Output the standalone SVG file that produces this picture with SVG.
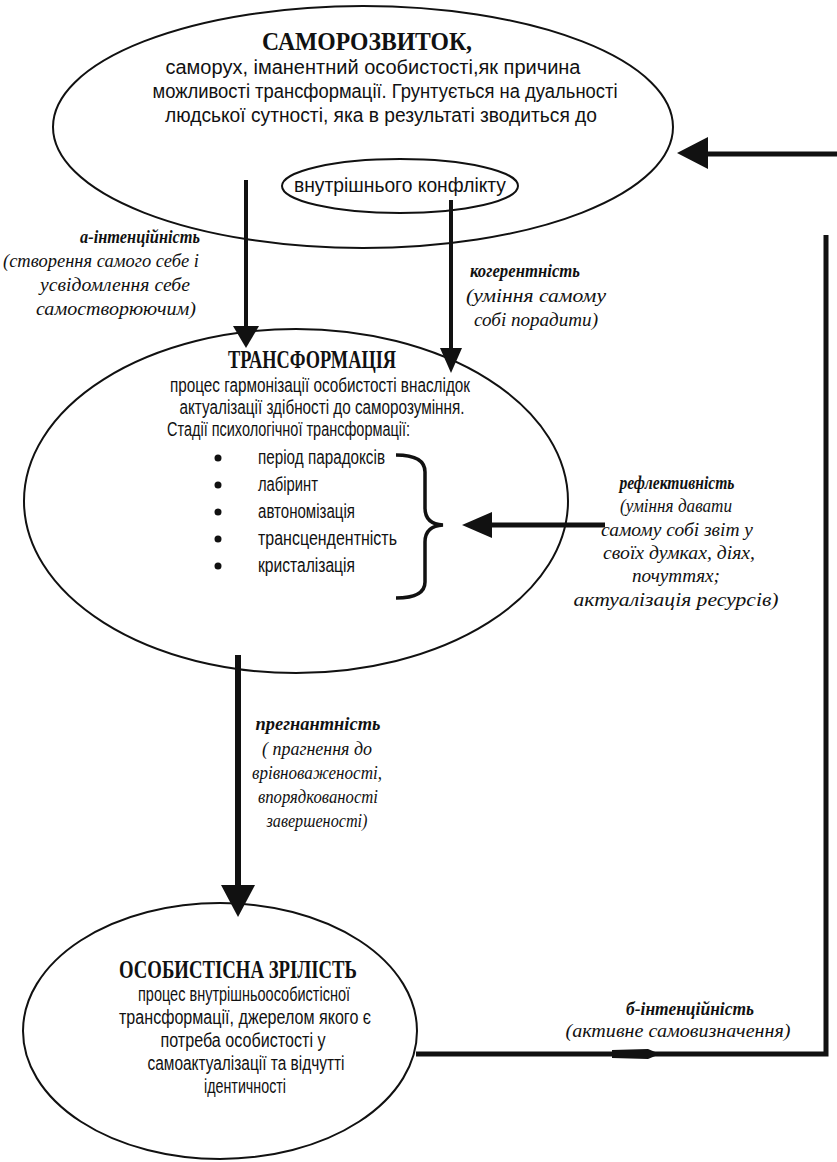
<svg xmlns="http://www.w3.org/2000/svg" width="837" height="1162" viewBox="0 0 837 1162">
<style>
.shape{fill:none;stroke:#111;stroke-width:2}
.ttl{font-family:"Liberation Serif",serif;font-weight:bold;fill:#111;text-anchor:middle}
.bd{font-family:"Liberation Sans Narrow","Liberation Sans",sans-serif;font-size:20px;fill:#111}
.c{text-anchor:middle}
.lh{font-family:"Liberation Serif",serif;font-style:italic;font-weight:bold;font-size:19px;fill:#111;text-anchor:middle}
.li{font-family:"Liberation Serif",serif;font-style:italic;font-size:19px;fill:#111;text-anchor:middle}
.ln{stroke:#111;fill:none}
.hd{fill:#111}
</style>
<rect width="837" height="1162" fill="#fff"/>
<g id="node-samorozvytok">
<ellipse class="shape" cx="363" cy="127" rx="310" ry="121"/>
<text class="ttl" x="367" y="50" font-size="26" textLength="210" lengthAdjust="spacingAndGlyphs">САМОРОЗВИТОК,</text>
<text class="bd c" x="373" y="74" textLength="415" lengthAdjust="spacingAndGlyphs">саморух, іманентний особистості,як причина</text>
<text class="bd c" x="385" y="98" textLength="465" lengthAdjust="spacingAndGlyphs">можливості трансформації. Грунтується на дуальності</text>
<text class="bd c" x="381" y="122" textLength="432" lengthAdjust="spacingAndGlyphs">людської сутності, яка в результаті зводиться до</text>
</g>
<g id="node-konflikt">
<ellipse class="shape" cx="400" cy="186" rx="118" ry="27"/>
<text class="bd c" x="400" y="192" font-size="19" textLength="212" lengthAdjust="spacingAndGlyphs">внутрішнього конфлікту</text>
</g>
<g id="node-transformatsiia">
<ellipse class="shape" cx="296" cy="501" rx="272" ry="172"/>
<text class="ttl" x="312" y="368" font-size="25" textLength="168" lengthAdjust="spacingAndGlyphs">ТРАНСФОРМАЦІЯ</text>
<text class="bd c" x="320" y="392" textLength="300" lengthAdjust="spacingAndGlyphs">процес гармонізації особистості внаслідок</text>
<text class="bd c" x="322" y="414" textLength="285" lengthAdjust="spacingAndGlyphs">актуалізації здібності до саморозуміння.</text>
<text class="bd" x="167" y="436" textLength="243" lengthAdjust="spacingAndGlyphs">Стадії психологічної трансформації:</text>
<g class="hd">
<circle cx="218" cy="458" r="3.5"/>
<circle cx="218" cy="485" r="3.5"/>
<circle cx="218" cy="512" r="3.5"/>
<circle cx="218" cy="539" r="3.5"/>
<circle cx="218" cy="566" r="3.5"/>
</g>
<text class="bd" x="258" y="464" textLength="127" lengthAdjust="spacingAndGlyphs">період парадоксів</text>
<text class="bd" x="258" y="491" textLength="60" lengthAdjust="spacingAndGlyphs">лабіринт</text>
<text class="bd" x="258" y="518" textLength="97" lengthAdjust="spacingAndGlyphs">автономізація</text>
<text class="bd" x="258" y="545" textLength="139" lengthAdjust="spacingAndGlyphs">трансцендентність</text>
<text class="bd" x="258" y="572" textLength="97" lengthAdjust="spacingAndGlyphs">кристалізація</text>
<path class="ln" stroke-width="3.5" d="M396,455 Q425,455 425,472 L425,508 Q425,524 443,525 Q425,526 425,542 L425,582 Q425,598 396,598"/>
</g>
<g id="node-zrilist">
<ellipse class="shape" cx="220" cy="1031" rx="197" ry="128"/>
<text class="ttl" x="238" y="978" font-size="25" textLength="238" lengthAdjust="spacingAndGlyphs">ОСОБИСТІСНА ЗРІЛІСТЬ</text>
<text class="bd c" x="244" y="1001" textLength="212" lengthAdjust="spacingAndGlyphs">процес внутрішньоособистісної</text>
<text class="bd c" x="245" y="1024" textLength="252" lengthAdjust="spacingAndGlyphs">трансформації, джерелом якого є</text>
<text class="bd c" x="243" y="1047" textLength="165" lengthAdjust="spacingAndGlyphs">потреба особистості у</text>
<text class="bd c" x="246" y="1070" textLength="197" lengthAdjust="spacingAndGlyphs">самоактуалізації та відчутті</text>
<text class="bd c" x="245" y="1093" textLength="82" lengthAdjust="spacingAndGlyphs">ідентичності</text>
</g>
<g id="connectors">
<line class="ln" stroke-width="4" x1="246" y1="180" x2="246" y2="330"/>
<polygon class="hd" points="233,326 259,326 246,348"/>
<line class="ln" stroke-width="4" x1="451" y1="200" x2="451" y2="352"/>
<polygon class="hd" points="440,348 462,348 451,373"/>
<line class="ln" stroke-width="5" x1="490" y1="525" x2="605" y2="525"/>
<polygon class="hd" points="462,525 492,512 492,538"/>
<line class="ln" stroke-width="6" x1="238" y1="655" x2="238" y2="890"/>
<polygon class="hd" points="221,885 255,885 238,917"/>
<polyline class="ln" stroke-width="5" points="416,1054 826,1054 826,235"/>
<polygon class="hd" points="612,1050 648,1049 660,1054 648,1059 612,1058"/>
<line class="ln" stroke-width="5" x1="706" y1="154" x2="837" y2="154"/>
<polygon class="hd" points="677,153 708,137 708,169"/>
<text class="lh" x="140" y="243" textLength="120" lengthAdjust="spacingAndGlyphs">а-інтенційність</text>
<text class="li" x="101" y="267" textLength="196" lengthAdjust="spacingAndGlyphs">(створення самого себе і</text>
<text class="li" x="115" y="291" textLength="150" lengthAdjust="spacingAndGlyphs">усвідомлення себе</text>
<text class="li" x="116" y="315" textLength="160" lengthAdjust="spacingAndGlyphs">самостворюючим)</text>
<text class="lh" x="525" y="277" textLength="110" lengthAdjust="spacingAndGlyphs">когерентність</text>
<text class="li" x="536" y="302" textLength="140" lengthAdjust="spacingAndGlyphs">(уміння самому</text>
<text class="li" x="536" y="326" textLength="124" lengthAdjust="spacingAndGlyphs">собі порадити)</text>
<text class="lh" x="677" y="489" textLength="115" lengthAdjust="spacingAndGlyphs">рефлективність</text>
<text class="li" x="676" y="512" textLength="112" lengthAdjust="spacingAndGlyphs">(уміння давати</text>
<text class="li" x="677" y="536" textLength="152" lengthAdjust="spacingAndGlyphs">самому собі звіт у</text>
<text class="li" x="679" y="559" textLength="152" lengthAdjust="spacingAndGlyphs">своїх думках, діях,</text>
<text class="li" x="676" y="582" textLength="88" lengthAdjust="spacingAndGlyphs">почуттях;</text>
<text class="li" x="676" y="606" textLength="205" lengthAdjust="spacingAndGlyphs">актуалізація ресурсів)</text>
<text class="lh" x="318" y="730" textLength="125" lengthAdjust="spacingAndGlyphs">прегнантність</text>
<text class="li" x="317" y="755" textLength="110" lengthAdjust="spacingAndGlyphs">( прагнення до</text>
<text class="li" x="317" y="779" textLength="130" lengthAdjust="spacingAndGlyphs">врівноваженості,</text>
<text class="li" x="318" y="803" textLength="120" lengthAdjust="spacingAndGlyphs">впорядкованості</text>
<text class="li" x="317" y="827" textLength="101" lengthAdjust="spacingAndGlyphs">завершеності)</text>
<text class="lh" x="690" y="1015" textLength="128" lengthAdjust="spacingAndGlyphs">б-інтенційність</text>
<text class="li" x="678" y="1037" textLength="225" lengthAdjust="spacingAndGlyphs">(активне самовизначення)</text>
</g>
</svg>
